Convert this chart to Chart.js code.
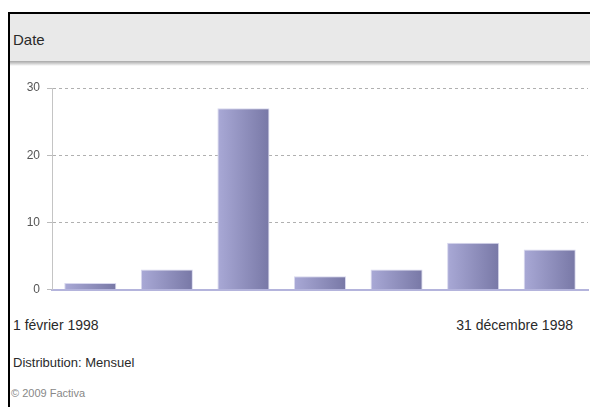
<!DOCTYPE html>
<html>
<head>
<meta charset="utf-8">
<script src="https://cdn.jsdelivr.net/npm/chart.js@4"></script>
<style>
  body { margin: 0; background: #fff; font-family: "Liberation Sans", Arial, sans-serif; }
  .frame { position: absolute; left: 8px; top: 12px; width: 590px; height: 400px; border-left: 2px solid #000; border-top: 2px solid #000; }
  .head { position: absolute; left: 10px; top: 14px; width: 580px; height: 47px; background: #e9e9e9; }
  .shadow { position: absolute; left: 10px; top: 61px; width: 580px; height: 5px; background: linear-gradient(#a8a8a8, #c8c8c8 40%, #fff); }
  .txt { position: absolute; color: #2a2a2a; white-space: nowrap; }
  #wrap { position: absolute; left: 0; top: 64px; width: 590px; height: 240px; }
</style>
</head>
<body>
<div class="frame"></div>
<div class="head"></div>
<div class="shadow"></div>
<div class="txt" style="left:13px; top:31px; font-size:15px;">Date</div>
<div id="wrap"><canvas id="myChart"></canvas></div>
<div class="txt" style="left:13px; top:317px; font-size:14px;">1 février 1998</div>
<div class="txt" style="right:17px; top:317px; font-size:14px;">31 décembre 1998</div>
<div class="txt" style="left:13px; top:355px; font-size:13px;">Distribution: Mensuel</div>
<div class="txt" style="left:11px; top:387px; font-size:11px; color:#888;">© 2009 Factiva</div>
<script>
const months = ['févr', 'mars', 'avr', 'mai', 'juin', 'juil', 'août'];
const counts = [1, 3, 27, 2, 3, 7, 6];
const yTicks = [0, 10, 20, 30];
const barPct = 0.68;

const barFill = (c) => {
    const chart = c.chart;
    const x = chart.scales.x;
    if (!chart.chartArea || !x) return '#9090c0';
    const px = x.getPixelForValue(c.dataIndex);
    const w = x.width / months.length * barPct;
    const g = chart.ctx.createLinearGradient(px - w / 2, 0, px + w / 2, 0);
    g.addColorStop(0, '#a9a9d6');
    g.addColorStop(1, '#7878a6');
    return g;
};

const ctx = document.getElementById('myChart').getContext('2d');
const myChart = new Chart(ctx, {
    type: 'bar',
    data: {
        labels: months,
        datasets: [{
            data: counts,
            backgroundColor: barFill,
            borderColor: '#d8d8ee',
            borderWidth: 1,
            borderSkipped: 'bottom',
            barPercentage: barPct,
            categoryPercentage: 1
        }]
    },
    options: {
        responsive: true,
        maintainAspectRatio: false,
        animation: false,
        layout: { padding: { top: 24, right: 2, bottom: 11, left: 0 } },
        plugins: { legend: { display: false }, tooltip: { enabled: false } },
        scales: {
            x: {
                ticks: { display: false },
                grid: { display: false },
                border: { color: '#b4b4dc', width: 2 },
                afterFit: (s) => { s.height = 0; }
            },
            y: {
                min: 0,
                max: 30,
                afterBuildTicks: (s) => { s.ticks = yTicks.map(v => ({ value: v })); },
                ticks: { color: '#555', padding: 7, font: { family: 'Liberation Sans', size: 12 } },
                grid: { color: '#b0b0b0', tickColor: '#bbb', tickLength: 5, drawTicks: true },
                border: { color: '#c4c4c4', dash: [3, 3], width: 1 },
                afterFit: (s) => { s.width = 52; }
            }
        }
    }
});
</script>
</body>
</html>
